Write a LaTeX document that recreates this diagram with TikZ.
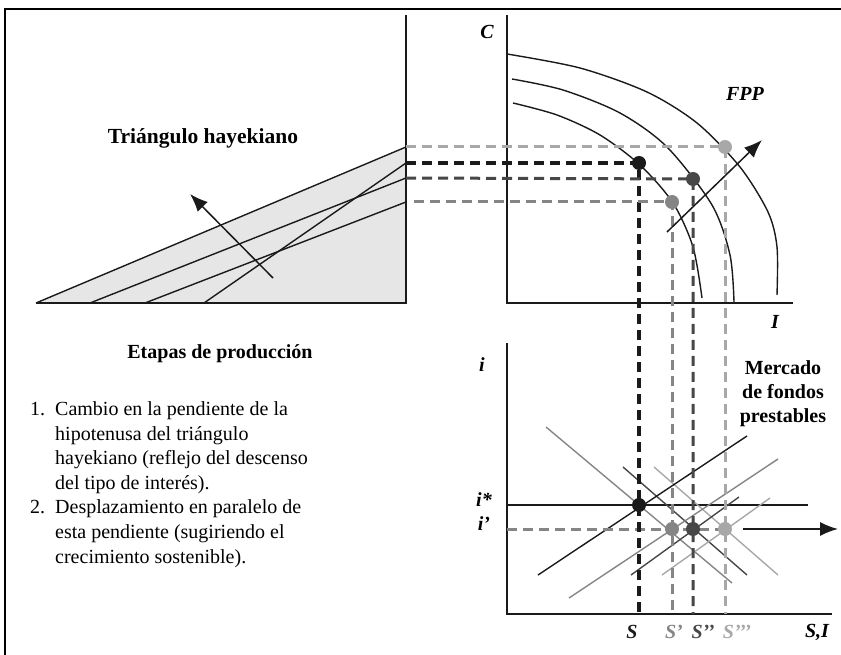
\documentclass[tikz,border=0pt]{standalone}
\usepackage{fontspec}
\setmainfont{Liberation Serif}
\usetikzlibrary{arrows.meta,positioning}
\definecolor{ink}{HTML}{1A1A1A}
\definecolor{darkg}{HTML}{474747}
\definecolor{midg}{HTML}{858585}
\definecolor{lightg}{HTML}{A8A8A8}
\definecolor{wedge}{HTML}{E6E6E6}

\begin{document}
\begin{tikzpicture}[x=1pt,y=-1pt,>=Latex,
  font=\fontsize{20}{24.6}\selectfont,
  axisline/.style={line width=1.6pt,ink},
  curve/.style={line width=1.4pt,ink},
  guide/.style={line width=3pt,dash pattern=on 10pt off 6pt},
  market/.style={line width=1.4pt},
  eqdot/.style={circle,inner sep=0pt,minimum size=14pt},
  bigarrow/.style={line width=1.5pt,ink,-{Latex[length=18pt,width=14pt]}},
  lab/.style={font=\fontsize{20}{24}\selectfont\bfseries\itshape},
  title/.style={font=\fontsize{20}{24}\selectfont\bfseries,align=center}]
\useasboundingbox (0,0) rectangle (841,655);
\draw[line width=1.6pt] (5,655) -- (5,9) -- (841,9);

% hayekian triangle
\coordinate (t0) at (36,303);
\coordinate (h0) at (406,147);
\coordinate (h1) at (406,163);
\coordinate (h2) at (406,178);
\coordinate (h3) at (406,202);
\fill[wedge] (t0) -- (h0) -- (406,303) -- cycle;
\draw[axisline] (406,15) -- (406,303) -- (t0);
\draw[curve] (t0) -- (h0);
\draw[curve] (90,303) -- (h2);
\draw[curve] (145,303) -- (h3);
\draw[curve] (204,303) -- (h1);
\draw[bigarrow] (273,278) -- (190,194);
\node[title,font=\fontsize{21.5}{26}\selectfont\bfseries] (tri) at (203,138) {Triángulo hayekiano};

% FPP panel
\draw[axisline] (507,15) -- (507,303) -- (793,303);
\node[lab] (C) at (487,32) {C};
\node[lab] (I) at (775,322) {I};
\node[lab] (fpp) at (745,94) {FPP};
\draw[curve] plot[smooth] coordinates {(507,54) (580,68) (647,92) (697,123) (740,167) (768,212) (777,247) (777,295)};
\draw[curve] plot[smooth] coordinates {(512,79) (563,90) (620,113) (667,147) (712,205) (730,255) (734,302)};
\draw[curve] plot[smooth] coordinates {(513,103) (557,115) (600,135) (640,165) (673,203) (693,247) (702,298)};
\coordinate (p0) at (639,163);
\coordinate (p1) at (672,202);
\coordinate (p2) at (693,179);
\coordinate (p3) at (725,147);

% loanable funds panel
\draw[axisline] (507,343) -- (507,614) -- (832,614);
\coordinate (s0) at (639,614);
\coordinate (s1) at (672,614);
\coordinate (s2) at (693,614);
\coordinate (s3) at (725,614);
\coordinate (q0) at (639,505);
\coordinate (q1) at (672,529);
\coordinate (q2) at (693,529);
\coordinate (q3) at (725,529);
\draw[market,ink] (507,505) -- (808,505);
\draw[market,midg] (546,427) -- (732,583);
\draw[market,darkg] (623,467) -- (747,575);
\draw[market,lightg] (654,467) -- (778,575);
\draw[market,ink] (538,575) -- (747,436);
\draw[market,midg] (569,598) -- (778,459);
\draw[market,darkg] (631,575) -- (739,497);
\draw[market,lightg] (662,575) -- (770,498);
\draw[guide,midg] (507,529) -- (q3);
\draw[bigarrow] (743,529) -- (838,529);
\node[lab] (i) at (482,365) {i};
\node[lab] (istar) at (484,500) {i*};
\node[lab] (iprime) at (484,524) {i’};
\node[lab] (SI) at (817,632) {S,I};
\node[lab,ink] (S0) at (632,632) {S};
\node[lab,midg] (S1) at (674,632) {S’};
\node[lab,darkg] (S2) at (703,632) {S’’};
\node[lab,lightg] (S3) at (737,632) {S’’’};
\node[title] (mkt) at (783,394) {Mercado\\de fondos\\prestables};

% guide lines between the panels
\draw[guide,lightg] (h0) -- (p3) -- (s3);
\draw[guide,ink,line width=3.4pt] (h1) -- (p0) -- (s0);
\draw[guide,darkg] (h2) -- (p2) -- (s2);
\draw[guide,midg] (414,202) -- (p1) -- (s1);
\draw[bigarrow] (667,232) -- (762,140);

\node[eqdot,fill=ink] at (p0) {};
\node[eqdot,fill=midg] at (p1) {};
\node[eqdot,fill=darkg] at (p2) {};
\node[eqdot,fill=lightg] at (p3) {};
\node[eqdot,fill=ink] at (q0) {};
\node[eqdot,fill=midg] at (q1) {};
\node[eqdot,fill=darkg] at (q2) {};
\node[eqdot,fill=lightg] at (q3) {};

% stages text
\node[title] (etapas) at (220,354) {Etapas de producción};
\node[anchor=north west,inner sep=0pt] (steps) at (30,398) {%
  \begin{tabular}{@{}r@{\ \ }l@{}}
  1. & Cambio en la pendiente de la\\
     & hipotenusa del triángulo\\
     & hayekiano (reflejo del descenso\\
     & del tipo de interés).\\
  2. & Desplazamiento en paralelo de\\
     & esta pendiente (sugiriendo el\\
     & crecimiento sostenible).
  \end{tabular}};
\end{tikzpicture}
\end{document}
